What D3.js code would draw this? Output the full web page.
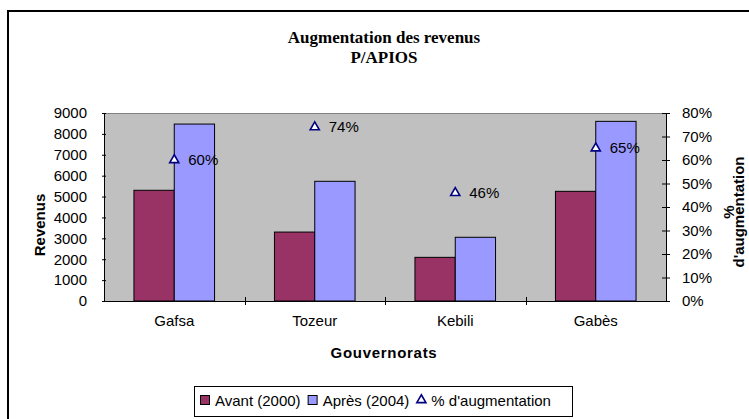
<!DOCTYPE html>
<meta charset="utf-8">
<style>
body { margin: 0; background: #fff; }
svg { display: block; }
text { font-family: 'Liberation Sans', Arial, sans-serif; fill: #000; }
.title { font-family: 'Liberation Serif', 'Times New Roman', serif; font-weight: bold; font-size: 17px; }
.tick text { font-size: 15px; }
.axis-title { font-size: 15px; font-weight: bold; }
.legend text { font-size: 15px; }
</style>
<body>
<svg width="749" height="419"></svg>
<script src="https://d3js.org/d3.v7.min.js"></script>
<script>

// values
var categories = ["Gafsa", "Tozeur", "Kebili", "Gabès"];
var avant = [5300, 3300, 2090, 5250];
var apres = [8470, 5730, 3050, 8600];
var pctAug = [0.60, 0.74, 0.46, 0.65];
var seriesNames = ["Avant (2000)", "Après (2004)", "% d'augmentation"];
var yTicks = [0, 1000, 2000, 3000, 4000, 5000, 6000, 7000, 8000, 9000];
var y2Ticks = [0, 0.1, 0.2, 0.3, 0.4, 0.5, 0.6, 0.7, 0.8];

var colAvant = "#993366", colApres = "#9999FF", colTri = "#000080";

var svg = d3.select("svg");

// outer chart frame
svg.append("rect")
  .attr("x", 8).attr("y", 11)
  .attr("width", 800).attr("height", 500)
  .attr("fill", "none")
  .attr("stroke", "#000")
  .attr("stroke-width", 2);

var plot = {left: 104, right: 666, top: 113, bottom: 301};

var x = d3.scaleBand()
  .domain(categories)
  .range([plot.left, plot.right]);

var xs = d3.scaleBand()
  .domain([0, 1])
  .range([0, x.bandwidth()])
  .paddingOuter(0.743);

var y = d3.scaleLinear().domain([0, 9000]).range([plot.bottom, plot.top]);
var y2 = d3.scaleLinear().domain([0, 0.8]).range([plot.bottom, plot.top]);

// plot area
svg.append("rect")
  .attr("x", plot.left).attr("y", plot.top)
  .attr("width", plot.right - plot.left)
  .attr("height", plot.bottom - plot.top)
  .attr("fill", "#C0C0C0");
svg.append("line")
  .attr("x1", plot.left).attr("x2", plot.right)
  .attr("y1", plot.top + 0.5).attr("y2", plot.top + 0.5)
  .attr("stroke", "#808080");

// titles
svg.append("text").attr("class", "title")
  .attr("x", 384).attr("y", 43).attr("text-anchor", "middle")
  .text("Augmentation des revenus");
svg.append("text").attr("class", "title")
  .attr("x", 384).attr("y", 63).attr("text-anchor", "middle")
  .text("P/APIOS");

// bars
var rows = categories.map(function(c, i) { return {cat: c, vals: [avant[i], apres[i]], pct: pctAug[i]}; });

var groups = svg.selectAll(".grp")
  .data(rows)
  .enter().append("g")
  .attr("class", "grp")
  .attr("transform", function(d) { return "translate(" + x(d.cat) + ",0)"; });

groups.selectAll("rect")
  .data(function(d) { return d.vals; })
  .enter().append("rect")
  .attr("x", function(d, i) { return xs(i); })
  .attr("y", function(d) { return y(d); })
  .attr("width", xs.bandwidth())
  .attr("height", function(d) { return plot.bottom - y(d); })
  .attr("fill", function(d, i) { return i == 0 ? colAvant : colApres; })
  .attr("stroke", "#000")
  .attr("stroke-width", 1);

// axes
var yAxis = d3.axisLeft(y).tickValues(yTicks).tickFormat(d3.format("d"))
  .tickSizeInner(4).tickSizeOuter(0).tickPadding(13);
var gy = svg.append("g").attr("transform", "translate(" + plot.left + ",0)").call(yAxis);
gy.selectAll(".tick line").attr("x2", 2).attr("x1", -2);

var y2Axis = d3.axisRight(y2).tickValues(y2Ticks).tickFormat(d3.format(".0%"))
  .tickSizeInner(4).tickSizeOuter(0).tickPadding(12);
var gy2 = svg.append("g").attr("transform", "translate(" + plot.right + ",0)").call(y2Axis);
gy2.selectAll(".tick line").attr("x1", -4).attr("x2", 4);

var xAxis = d3.axisBottom(x).tickSize(0).tickPadding(14);
var gx = svg.append("g").attr("transform", "translate(0," + plot.bottom + ")").call(xAxis);
gx.selectAll(".tick text").attr("dy", "0.71em");

// category separators on x axis
svg.selectAll(".xsep")
  .data(categories.slice(1))
  .enter().append("line")
  .attr("x1", function(d) { return Math.round(x(d)) + 0.5; })
  .attr("x2", function(d) { return Math.round(x(d)) + 0.5; })
  .attr("y1", plot.bottom - 4).attr("y2", plot.bottom + 4)
  .attr("stroke", "#000");

svg.selectAll(".domain").attr("stroke", "#000");
svg.selectAll(".tick text").style("font-size", "15px").style("font-family", "'Liberation Sans', Arial, sans-serif");
svg.selectAll(".tick line").attr("stroke", "#000");

// % markers
var tri = d3.symbol().type(d3.symbolTriangle).size(36);
svg.selectAll(".tri")
  .data(rows)
  .enter().append("path")
  .attr("d", tri)
  .attr("transform", function(d) { return "translate(" + (x(d.cat) + x.bandwidth() / 2) + "," + y2(d.pct) + ")"; })
  .attr("fill", "#fff")
  .attr("stroke", colTri)
  .attr("stroke-width", 1.6);

svg.selectAll(".pctlab")
  .data(rows)
  .enter().append("text")
  .attr("x", function(d) { return x(d.cat) + x.bandwidth() / 2 + 14; })
  .attr("y", function(d) { return y2(d.pct) + 5; })
  .style("font-size", "15px")
  .text(function(d) { return Math.round(d.pct * 100) + "%"; });

// axis titles
svg.append("text").attr("class", "axis-title")
  .attr("transform", "translate(45,225) rotate(-90)")
  .attr("text-anchor", "middle")
  .text("Revenus");

svg.append("text").attr("class", "axis-title")
  .attr("x", 384).attr("y", 358).attr("text-anchor", "middle")
  .style("letter-spacing", "0.7px")
  .text("Gouvernorats");

svg.append("text").attr("class", "axis-title")
  .attr("transform", "translate(734,212) rotate(-90)")
  .attr("text-anchor", "middle")
  .text("%");
svg.append("text").attr("class", "axis-title")
  .attr("transform", "translate(744,212) rotate(-90)")
  .attr("text-anchor", "middle")
  .text("d'augmentation");

// legend
var legend = svg.append("g").attr("class", "legend");
legend.append("rect")
  .attr("x", 194.5).attr("y", 386.5)
  .attr("width", 378).attr("height", 30)
  .attr("fill", "#fff")
  .attr("stroke", "#000");

var lx = 200;
seriesNames.forEach(function(name, i) {
  if (i < 2) {
    legend.append("rect")
      .attr("x", lx + 0.5).attr("y", 395.5)
      .attr("width", 9).attr("height", 9)
      .attr("fill", i == 0 ? colAvant : colApres)
      .attr("stroke", "#000");
  } else {
    legend.append("path")
      .attr("d", tri)
      .attr("transform", "translate(" + (lx + 5) + ",400)")
      .attr("fill", "#fff")
      .attr("stroke", colTri)
      .attr("stroke-width", 1.6);
  }
  var t = legend.append("text")
    .attr("x", lx + 15).attr("y", 406)
    .text(name);
  lx += 15 + t.node().getComputedTextLength() + 7;
});

</script>
</body>
